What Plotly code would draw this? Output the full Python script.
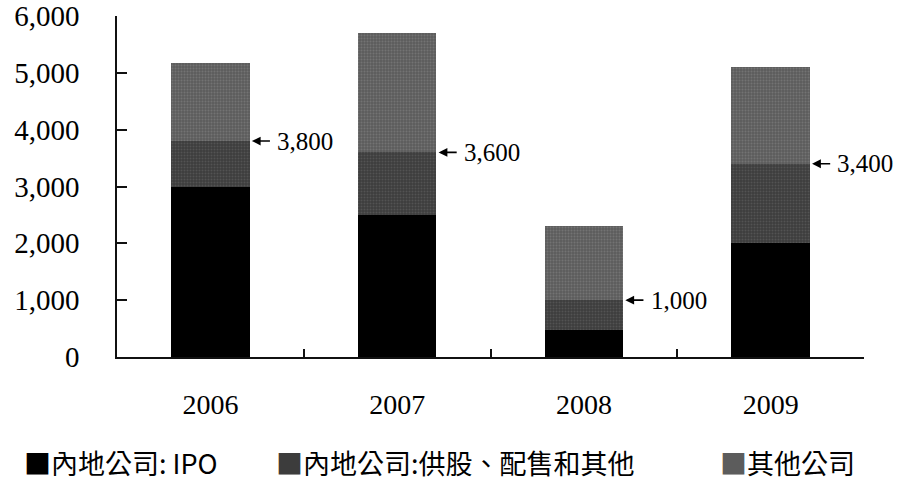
import plotly.graph_objects as go

# Fund raising by year (HK$ bn scale units as shown on the axis)
years = ["2006", "2007", "2008", "2009"]
mainland_ipo = [3000, 2500, 480, 2000]
mainland_total = [3800, 3600, 1000, 3400]   # IPO + placements/rights/other
other_companies = [1370, 2100, 1300, 1700]

mainland_secondary = [t - i for t, i in zip(mainland_total, mainland_ipo)]

series_names = ["內地公司: IPO", "內地公司:供股、配售和其他", "其他公司"]
series_colors = ["#000000", "#3c3c3c", "#5c5c5c"]
y_ticks = [0, 1000, 2000, 3000, 4000, 5000, 6000]

BAR_WIDTH = 0.42
num_font = "Liberation Serif, Times New Roman, serif"
cjk_font = "Noto Sans CJK TC, Noto Sans CJK SC, sans-serif"

fig = go.Figure()
for name, vals, col, dots in zip(series_names,
                                 [mainland_ipo, mainland_secondary, other_companies],
                                 series_colors,
                                 ["#000000", "#6a6a6a", "#8a8a8a"]):
    pattern = None
    if col != "#000000":
        pattern = dict(shape=".", fgcolor=dots, bgcolor=col, size=3, solidity=0.35)
    fig.add_trace(go.Bar(
        x=years, y=vals, name=name, width=BAR_WIDTH,
        marker=dict(color=col, line=dict(width=0), pattern=pattern),
        showlegend=False,
    ))

# Arrows pointing at the top of the mainland segments, with the cumulative value
for i, v in enumerate(mainland_total):
    head = i + BAR_WIDTH / 2 + 0.012
    tail = head + 0.105
    fig.add_annotation(x=head, y=v, ax=tail, ay=v, xref="x", yref="y",
                       axref="x", ayref="y", text="", showarrow=True,
                       arrowhead=2, arrowsize=1.1, arrowwidth=1.6,
                       arrowcolor="#000")
    fig.add_annotation(x=tail + 0.02, y=v, xref="x", yref="y", text=f"{v:,}",
                       showarrow=False, xanchor="left", yanchor="middle",
                       font=dict(family=num_font, size=25, color="#000"))

# Legend drawn as a row of text entries with square markers
legend_pos = [22, 274, 718]
plot_left, plot_w = 117, 747
for name, col, px in zip(series_names, series_colors, legend_pos):
    fig.add_annotation(
        x=(px - plot_left) / plot_w, y=-0.31, xref="paper", yref="paper",
        xanchor="left", yanchor="middle", showarrow=False,
        text=f'<span style="color:{col}">■</span>{name}',
        font=dict(family=cjk_font, size=27, color="#000"),
    )

fig.update_layout(
    width=901, height=481,
    margin=dict(l=117, r=37, t=16, b=124, autoexpand=False),
    paper_bgcolor="white", plot_bgcolor="white",
    barmode="stack", bargap=1 - BAR_WIDTH,
    font=dict(family=num_font, color="#000"),
)
fig.update_xaxes(
    type="category", showgrid=False, showline=True, linecolor="#111",
    linewidth=1.5, ticks="inside", tickson="boundaries", ticklen=8,
    tickcolor="#111", tickwidth=1.5, ticklabelstandoff=22, automargin=False,
    tickfont=dict(family=num_font, size=28, color="#000"),
    range=[-0.5, 3.5],
)
fig.update_yaxes(
    range=[0, 6000], tickvals=y_ticks, ticktext=[f"{t:,}" for t in y_ticks],
    showgrid=False, zeroline=False, showline=True, linecolor="#111",
    linewidth=1.5, ticks="inside", ticklen=10, tickcolor="#111",
    tickwidth=1.5, ticklabelstandoff=30, automargin=False,
    tickfont=dict(family=num_font, size=29, color="#000"),
)

fig.write_html("out.html")
